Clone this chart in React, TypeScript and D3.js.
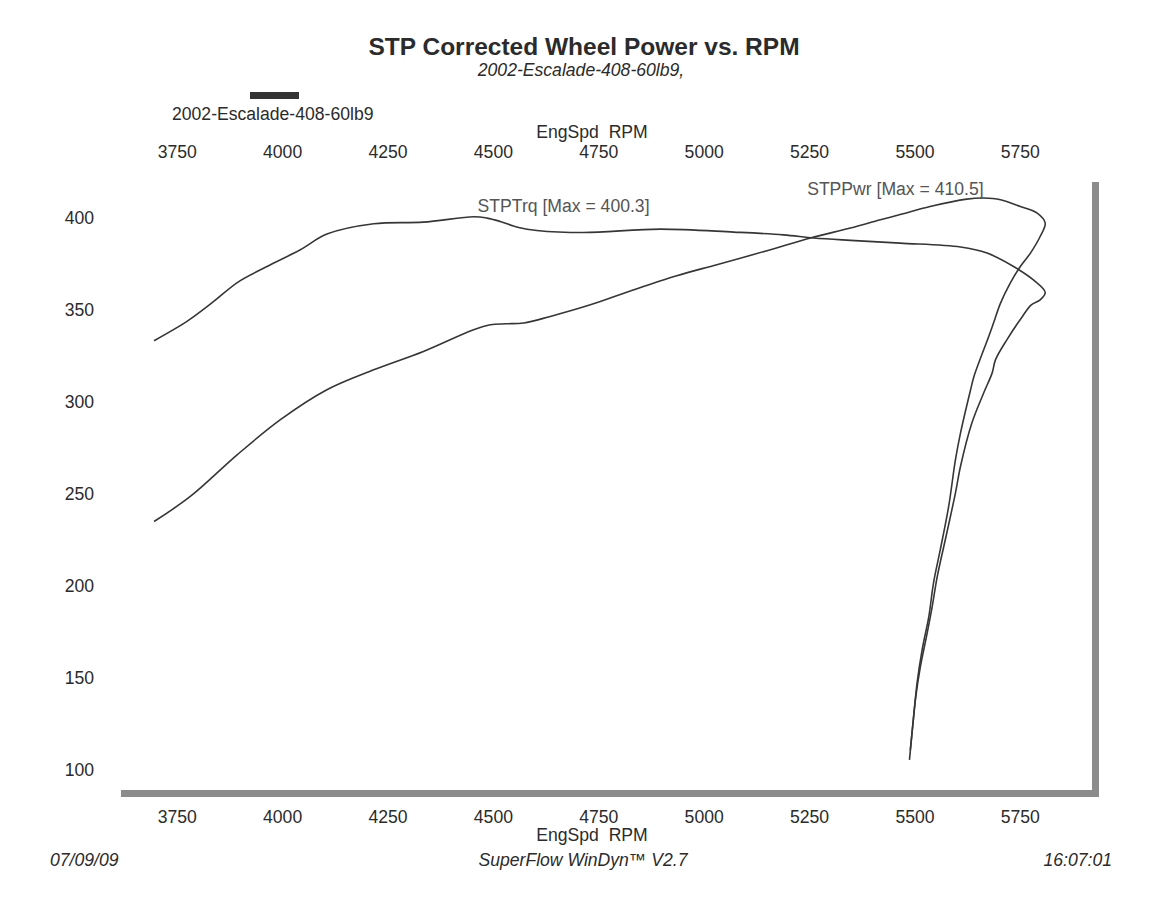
import React from 'react';
import * as d3 from 'd3';

// readings off the dyno sheet: run goes up the rpm range and then falls back
const trqRpm = [3695, 3773, 3832, 3895, 3963, 4042, 4105, 4216, 4334, 4453, 4485, 4516, 4560, 4603, 4714, 4896, 5070, 5188, 5260, 5347, 5465, 5608, 5671, 5734, 5781, 5809, 5797, 5776, 5755, 5718, 5691, 5683, 5663, 5635, 5608, 5596, 5572, 5553, 5541, 5529, 5513, 5501, 5493, 5487];
const trqVal = [333, 343.5, 353.5, 365, 373.3, 382.4, 390.9, 396.5, 397.4, 400.3, 399.6, 397.8, 394.5, 392.9, 391.8, 393.6, 392, 390.5, 388.8, 387.5, 386, 383.9, 380.6, 373.3, 366, 359.2, 355.2, 352.5, 346.2, 333.5, 322.6, 315.4, 304.6, 288.3, 264.7, 250.2, 224.9, 205, 188.7, 174.2, 156.1, 138, 119.9, 105.4];

const pwrRpm = [3695, 3781, 3892, 3994, 4105, 4216, 4334, 4453, 4493, 4530, 4572, 4635, 4730, 4833, 4935, 5030, 5149, 5252, 5347, 5418, 5465, 5536, 5623, 5663, 5703, 5750, 5790, 5809, 5797, 5774, 5750, 5726, 5703, 5687, 5675, 5640, 5632, 5608, 5596, 5580, 5560, 5544, 5533, 5517, 5505, 5497, 5489];
const pwrVal = [234.8, 248.4, 271, 290, 306.4, 317.2, 327.2, 339, 341.7, 342.2, 342.6, 346.2, 352.5, 360.7, 368.3, 374.3, 381.9, 388.8, 394.2, 398.7, 401.5, 405.9, 409.9, 410.5, 409.6, 405.9, 402.3, 396.9, 389.6, 380.6, 373.3, 364.3, 353.4, 343, 335.3, 313.6, 306.4, 282.8, 268.3, 243, 219.4, 201.4, 183.3, 165.1, 147, 128.9, 110.7];

const xTicks = [3750, 4000, 4250, 4500, 4750, 5000, 5250, 5500, 5750];
const yTicks = [100, 150, 200, 250, 300, 350, 400];

const runName = '2002-Escalade-408-60lb9';
const axisName = 'EngSpd\u00a0\u00a0RPM';

const W = 1176;
const H = 909;
const plot = { left: 114, right: 1092, top: 175, bottom: 790 };
const font = '"Liberation Sans", Arial, sans-serif';
const ink = '#2b2b2b';
const fs = 17.6;

export default function App() {
  const x = d3.scaleLinear().domain([3600, 5920]).range([plot.left, plot.right]);
  const y = d3.scaleLinear().domain([89, 423]).range([plot.bottom, plot.top]);

  const line = d3.line<[number, number]>()
    .x(d => x(d[0]))
    .y(d => y(d[1]))
    .curve(d3.curveCatmullRom.alpha(0.5));

  const trq = trqRpm.map((r, i) => [r, trqVal[i]] as [number, number]);
  const pwr = pwrRpm.map((r, i) => [r, pwrVal[i]] as [number, number]);

  const trqMax = d3.greatest(trq, d => d[1])!;
  const pwrMax = d3.greatest(pwr, d => d[1])!;

  return (
    <div style={{ position: 'absolute', left: 0, top: 0 }}>
      <svg width={W} height={H} style={{ display: 'block', background: '#fff' }} fontFamily={font}>
        {/* titles */}
        <text x={584} y={55} textAnchor="middle" fontSize={24.5} fontWeight="bold" fill={ink}>
          STP Corrected Wheel Power vs. RPM
        </text>
        <text x={581} y={76} textAnchor="middle" fontSize={fs} fontStyle="italic" fill={ink}>
          {runName},
        </text>

        {/* legend */}
        <rect x={250} y={92} width={49} height={7} fill="#333" />
        <text x={172} y={120} fontSize={fs} fill={ink}>{runName}</text>

        {/* top axis */}
        <text x={592} y={138} textAnchor="middle" fontSize={fs} fill={ink}>{axisName}</text>
        {xTicks.map(t => (
          <text key={'tt' + t} x={x(t)} y={158} textAnchor="middle" fontSize={fs} fill={ink}>{t}</text>
        ))}

        {/* plot frame with shadow */}
        <rect x={plot.left + 7} y={plot.top + 7} width={plot.right - plot.left} height={plot.bottom - plot.top} fill="#8c8c8c" />
        <rect x={plot.left} y={plot.top} width={plot.right - plot.left} height={plot.bottom - plot.top} fill="#fff" />

        {/* y labels */}
        {yTicks.map(t => (
          <text key={'y' + t} x={94} y={y(t)} dy="0.35em" textAnchor="end" fontSize={fs} fill={ink}>{t}</text>
        ))}

        {/* curves */}
        <path d={line(trq) || ''} fill="none" stroke="#363636" strokeWidth={1.6} />
        <path d={line(pwr) || ''} fill="none" stroke="#363636" strokeWidth={1.6} />

        <text x={x(trqMax[0]) + 4} y={y(trqMax[1]) - 5} fontSize={fs} fill="#555">
          STPTrq [Max = {trqMax[1].toFixed(1)}]
        </text>
        <text x={x(pwrMax[0])} y={y(pwrMax[1]) - 3} textAnchor="end" fontSize={fs} fill="#555">
          STPPwr [Max = {pwrMax[1].toFixed(1)}]
        </text>

        {/* bottom axis */}
        {xTicks.map(t => (
          <text key={'bt' + t} x={x(t)} y={823} textAnchor="middle" fontSize={fs} fill={ink}>{t}</text>
        ))}
        <text x={592} y={841} textAnchor="middle" fontSize={fs} fill={ink}>{axisName}</text>

        {/* footer */}
        <text x={50} y={866} fontSize={fs} fontStyle="italic" fill={ink}>07/09/09</text>
        <text x={583} y={866} textAnchor="middle" fontSize={fs} fontStyle="italic" fill={ink}>SuperFlow WinDyn™ V2.7</text>
        <text x={1112} y={866} textAnchor="end" fontSize={fs} fontStyle="italic" fill={ink}>16:07:01</text>
      </svg>
    </div>
  );
}
